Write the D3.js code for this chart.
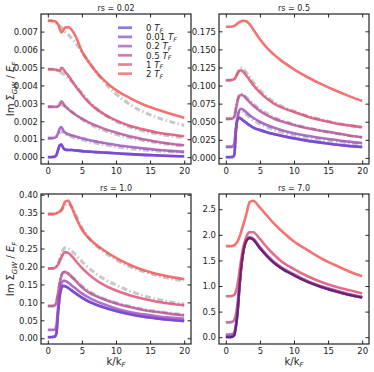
<!DOCTYPE html>
<html>
<head>
<meta charset="utf-8">
<script src="https://cdn.jsdelivr.net/npm/d3@7"></script>
<style>
body { margin: 0; background: #fff; }
svg text { font-family: "DejaVu Sans", sans-serif; }
</style>
</head>
<body>
<div id="chart"></div>
<script>
var k_values = [0, 0.5, 1, 1.25, 1.5, 1.75, 2, 2.25, 2.5, 3, 3.5, 4, 5, 6, 7, 8, 10, 12, 14, 16, 18, 20];
var temperatures = ["0", "0.01", "0.2", "0.5", "1", "2"];
var line_colors = ["#5a3ee0", "#7a45d0", "#9a4cb8", "#b54a95", "#d84a6e", "#f05050"];
var rs_labels = ["0.02", "0.5", "1.0", "7.0"];
var x_ticks = [0, 5, 10, 15, 20];

// rs = 0.02, one row per temperature
var rs002_curves = [
    [0, 0, 0.00002, 0.0001, 0.0004, 0.00066, 0.0007, 0.00052, 0.00043, 0.0004, 0.0004, 0.00038, 0.00034, 0.00031, 0.00028, 0.00026, 0.00022, 0.00017, 0.00013, 0.0001, 0.00007, 0.00005],
    [0.00001, 0.00001, 0.00003, 0.00011, 0.00041, 0.00066, 0.0007, 0.00052, 0.00043, 0.0004, 0.0004, 0.00038, 0.00034, 0.00031, 0.00028, 0.00026, 0.00022, 0.00017, 0.00013, 0.0001, 0.00007, 0.00005],
    [0.00106, 0.00106, 0.00108, 0.00114, 0.00134, 0.0016, 0.00168, 0.0015, 0.00138, 0.00128, 0.00122, 0.00117, 0.00105, 0.00096, 0.00088, 0.00081, 0.00068, 0.00058, 0.00049, 0.00041, 0.00035, 0.0003],
    [0.00282, 0.00282, 0.00281, 0.0028, 0.00283, 0.00296, 0.00312, 0.003, 0.00286, 0.00268, 0.00252, 0.00238, 0.00215, 0.00194, 0.00177, 0.00162, 0.00137, 0.00117, 0.001, 0.00086, 0.00075, 0.00066],
    [0.0049, 0.0049, 0.00489, 0.00487, 0.00484, 0.0048, 0.00498, 0.00492, 0.00478, 0.00455, 0.00428, 0.004, 0.0035, 0.00305, 0.00272, 0.00246, 0.00205, 0.00175, 0.00155, 0.00138, 0.00126, 0.00117],
    [0.0076, 0.0076, 0.00757, 0.00752, 0.0074, 0.00715, 0.00695, 0.00705, 0.00722, 0.00725, 0.0071, 0.0068, 0.0059, 0.0053, 0.0048, 0.00438, 0.00374, 0.00331, 0.00294, 0.00266, 0.00242, 0.0022]
];
var rs002_approx = [
    [0.00106, 0.00106, 0.00108, 0.00115, 0.00128, 0.00138, 0.0014, 0.00136, 0.0013, 0.00121, 0.00114, 0.00108, 0.00097, 0.00087, 0.00079, 0.00071, 0.00058, 0.00048, 0.0004, 0.00034, 0.0003, 0.00026],
    [0.0028, 0.0028, 0.0028, 0.00282, 0.00288, 0.00292, 0.00292, 0.00288, 0.00282, 0.0027, 0.00255, 0.0024, 0.00212, 0.00188, 0.00168, 0.00152, 0.00127, 0.00108, 0.00093, 0.0008, 0.0007, 0.0006],
    [0.0049, 0.0049, 0.00488, 0.00485, 0.0048, 0.00476, 0.0047, 0.00464, 0.00458, 0.00442, 0.00422, 0.00402, 0.00357, 0.00312, 0.00275, 0.00245, 0.002, 0.00168, 0.00146, 0.0013, 0.00118, 0.00108],
    [0.0076, 0.0076, 0.0075, 0.00745, 0.0074, 0.00732, 0.00722, 0.00712, 0.007, 0.00683, 0.00662, 0.0064, 0.00588, 0.00532, 0.0048, 0.0043, 0.00352, 0.00295, 0.00252, 0.00222, 0.00198, 0.00178]
];
var rs002_yticks = [0, 0.001, 0.002, 0.003, 0.004, 0.005, 0.006, 0.007];

// rs = 0.5
var rs05_curves = [
    [0.001, 0.001, 0.0012, 0.004, 0.04, 0.054, 0.0555, 0.054, 0.052, 0.0485, 0.045, 0.042, 0.0385, 0.0355, 0.033, 0.031, 0.027, 0.0235, 0.021, 0.0185, 0.0165, 0.015],
    [0.0012, 0.0012, 0.0014, 0.0045, 0.041, 0.054, 0.0556, 0.0541, 0.0521, 0.0486, 0.0451, 0.0421, 0.0386, 0.0356, 0.0331, 0.0311, 0.0271, 0.0236, 0.0211, 0.0186, 0.0166, 0.0151],
    [0.0153, 0.0153, 0.0156, 0.02, 0.04, 0.058, 0.066, 0.068, 0.067, 0.063, 0.059, 0.0555, 0.05, 0.0455, 0.042, 0.039, 0.034, 0.0305, 0.0275, 0.025, 0.0225, 0.0205],
    [0.054, 0.054, 0.0545, 0.057, 0.068, 0.08, 0.086, 0.087, 0.0865, 0.082, 0.077, 0.0725, 0.065, 0.059, 0.0545, 0.051, 0.0455, 0.041, 0.0375, 0.0345, 0.031, 0.0285],
    [0.1074, 0.1074, 0.108, 0.109, 0.1125, 0.117, 0.1205, 0.1212, 0.1195, 0.114, 0.1075, 0.101, 0.0905, 0.082, 0.0755, 0.0705, 0.0635, 0.057, 0.052, 0.048, 0.045, 0.0425],
    [0.1814, 0.1814, 0.1816, 0.1825, 0.184, 0.186, 0.1876, 0.1888, 0.1895, 0.1888, 0.1845, 0.178, 0.164, 0.1525, 0.1435, 0.1355, 0.1225, 0.1115, 0.102, 0.0935, 0.0858, 0.0786]
];
var rs05_approx = [
    [0.0153, 0.0153, 0.0156, 0.02, 0.04, 0.057, 0.064, 0.065, 0.064, 0.06, 0.056, 0.0525, 0.047, 0.0425, 0.039, 0.036, 0.0315, 0.028, 0.025, 0.0228, 0.0208, 0.019],
    [0.054, 0.054, 0.0545, 0.058, 0.07, 0.081, 0.087, 0.0885, 0.088, 0.084, 0.0795, 0.075, 0.0675, 0.0615, 0.0565, 0.0525, 0.0465, 0.0415, 0.0375, 0.034, 0.031, 0.0285],
    [0.1074, 0.1074, 0.108, 0.109, 0.113, 0.118, 0.122, 0.124, 0.1235, 0.118, 0.1115, 0.105, 0.094, 0.085, 0.078, 0.0725, 0.0645, 0.058, 0.053, 0.0485, 0.045, 0.042]
];
var rs05_yticks = [0, 0.025, 0.05, 0.075, 0.1, 0.125, 0.15, 0.175];

// rs = 1.0
var rs10_curves = [
    [0.003, 0.003, 0.004, 0.012, 0.07, 0.118, 0.14, 0.146, 0.145, 0.14, 0.133, 0.126, 0.113, 0.102, 0.094, 0.087, 0.0757, 0.067, 0.06, 0.055, 0.051, 0.0477],
    [0.0035, 0.0035, 0.0045, 0.013, 0.071, 0.119, 0.1405, 0.1465, 0.1455, 0.1405, 0.1335, 0.1265, 0.1135, 0.1025, 0.0945, 0.0875, 0.0762, 0.0675, 0.0605, 0.0555, 0.0515, 0.0482],
    [0.0235, 0.0235, 0.024, 0.035, 0.085, 0.13, 0.152, 0.16, 0.16, 0.155, 0.147, 0.14, 0.125, 0.113, 0.104, 0.096, 0.083, 0.073, 0.0665, 0.0615, 0.0575, 0.0543],
    [0.09, 0.09, 0.091, 0.1, 0.125, 0.155, 0.175, 0.184, 0.185, 0.18, 0.171, 0.162, 0.142, 0.128, 0.118, 0.11, 0.097, 0.087, 0.079, 0.073, 0.068, 0.0636],
    [0.1945, 0.1945, 0.196, 0.199, 0.205, 0.215, 0.226, 0.235, 0.24, 0.238, 0.229, 0.218, 0.196, 0.178, 0.163, 0.151, 0.133, 0.12, 0.11, 0.102, 0.096, 0.0917],
    [0.346, 0.346, 0.3465, 0.348, 0.35, 0.353, 0.358, 0.368, 0.38, 0.383, 0.365, 0.342, 0.303, 0.279, 0.262, 0.248, 0.224, 0.205, 0.19, 0.179, 0.171, 0.1646]
];
var rs10_approx = [
    [0.09, 0.09, 0.091, 0.1, 0.125, 0.155, 0.175, 0.183, 0.184, 0.18, 0.172, 0.164, 0.146, 0.132, 0.121, 0.112, 0.099, 0.089, 0.081, 0.075, 0.07, 0.066],
    [0.1945, 0.1945, 0.196, 0.2, 0.208, 0.222, 0.236, 0.247, 0.252, 0.25, 0.243, 0.234, 0.214, 0.196, 0.181, 0.168, 0.148, 0.132, 0.119, 0.109, 0.101, 0.095],
    [0.346, 0.346, 0.3465, 0.348, 0.35, 0.353, 0.357, 0.363, 0.37, 0.375, 0.366, 0.348, 0.308, 0.28, 0.26, 0.244, 0.219, 0.2, 0.186, 0.175, 0.166, 0.16]
];
var rs10_yticks = [0, 0.05, 0.1, 0.15, 0.2, 0.25, 0.3, 0.35, 0.4];

// rs = 7.0
var rs70_curves = [
    [0, 0, 0.01, 0.04, 0.22, 0.52, 0.98, 1.36, 1.62, 1.88, 1.94, 1.91, 1.74, 1.59, 1.46, 1.36, 1.21, 1.08, 0.98, 0.9, 0.83, 0.775],
    [0.02, 0.02, 0.03, 0.06, 0.23, 0.53, 0.99, 1.36, 1.62, 1.88, 1.94, 1.912, 1.742, 1.592, 1.462, 1.362, 1.212, 1.082, 0.982, 0.902, 0.832, 0.777],
    [0.05, 0.05, 0.06, 0.1, 0.26, 0.56, 1.0, 1.36, 1.62, 1.88, 1.94, 1.915, 1.745, 1.595, 1.465, 1.365, 1.215, 1.085, 0.985, 0.905, 0.835, 0.78],
    [0.29, 0.29, 0.3, 0.34, 0.46, 0.7, 1.02, 1.37, 1.63, 1.89, 1.95, 1.925, 1.76, 1.61, 1.48, 1.38, 1.23, 1.095, 0.995, 0.915, 0.845, 0.79],
    [0.8, 0.8, 0.81, 0.83, 0.9, 1.05, 1.28, 1.52, 1.72, 1.96, 2.05, 2.05, 1.92, 1.76, 1.62, 1.5, 1.33, 1.19, 1.08, 0.99, 0.92, 0.855],
    [1.78, 1.78, 1.785, 1.8, 1.83, 1.88, 1.96, 2.06, 2.17, 2.4, 2.64, 2.665, 2.53, 2.38, 2.23, 2.1, 1.87, 1.7, 1.54, 1.41, 1.29, 1.19]
];
var rs70_reference = [0, 0, 0.01, 0.04, 0.22, 0.52, 0.98, 1.36, 1.62, 1.88, 1.94, 1.91, 1.74, 1.59, 1.46, 1.36, 1.21, 1.08, 0.98, 0.9, 0.83, 0.775];
var rs70_yticks = [0, 0.5, 1.0, 1.5, 2.0, 2.5];

var panel_size = 150;
var panels = [
    {rs: rs_labels[0], curves: rs002_curves, approx: rs002_approx, reference: null, yticks: rs002_yticks, fmt: ".3f", left: 41, top: 14},
    {rs: rs_labels[1], curves: rs05_curves, approx: rs05_approx, reference: null, yticks: rs05_yticks, fmt: ".3f", left: 219, top: 14},
    {rs: rs_labels[2], curves: rs10_curves, approx: rs10_approx, reference: null, yticks: rs10_yticks, fmt: ".2f", left: 41, top: 194},
    {rs: rs_labels[3], curves: rs70_curves, approx: [], reference: rs70_reference, yticks: rs70_yticks, fmt: ".1f", left: 219, top: 194}
];

var svg = d3.select("#chart").append("svg")
    .attr("width", 374)
    .attr("height", 372);

panels.forEach(function(p, pi){
    var g = svg.append("g")
        .attr("transform", "translate(" + p.left + "," + p.top + ")");

    var x = d3.scaleLinear().domain([-1, 21]).range([0, panel_size]);
    var all = [].concat.apply([], p.curves.concat(p.approx));
    var ymin = d3.min(all), ymax = d3.max(all);
    var pad = (ymax - ymin) * 0.05;
    var y = d3.scaleLinear().domain([ymin - pad, ymax + pad]).range([panel_size, 0]);

    var line = d3.line()
        .x(function(d, i){ return x(k_values[i]); })
        .y(function(d){ return y(d); })
        .curve(d3.curveMonotoneX);

    var plot = g.append("g");

    // gray approximations under the curves
    p.approx.forEach(function(values){
        plot.append("path")
            .attr("d", line(values))
            .attr("fill", "none")
            .attr("stroke", "#c8c8c8")
            .attr("stroke-width", 3)
            .attr("stroke-dasharray", "6,2.5,1.5,2.5");
    });

    p.curves.forEach(function(values, i){
        plot.append("path")
            .attr("d", line(values))
            .attr("fill", "none")
            .attr("stroke", line_colors[i])
            .attr("stroke-width", 2.6)
            .attr("stroke-opacity", 0.8)
            .attr("stroke-linejoin", "round");
    });

    if(p.reference){
        plot.append("path")
            .attr("d", line(p.reference))
            .attr("fill", "none")
            .attr("stroke", "#3d0548")
            .attr("stroke-width", 2)
            .attr("stroke-opacity", 0.6);
    }

    // axes, ticks pointing inward on all sides
    var styleAxis = function(a){
        a.attr("font-family", "DejaVu Sans").attr("font-size", 8.5).attr("color", "#222");
        a.select(".domain").remove();
        a.selectAll(".tick line").attr("stroke-width", 1);
    };
    g.append("g")
        .attr("transform", "translate(0," + panel_size + ")")
        .call(d3.axisBottom(x).tickValues(x_ticks).tickSizeInner(-3.5).tickSizeOuter(0).tickPadding(4))
        .call(styleAxis);
    g.append("g")
        .call(d3.axisTop(x).tickValues(x_ticks).tickSizeInner(-3.5).tickSizeOuter(0).tickFormat(""))
        .call(styleAxis);
    g.append("g")
        .call(d3.axisLeft(y).tickValues(p.yticks).tickSizeInner(-3.5).tickSizeOuter(0).tickPadding(3).tickFormat(d3.format(p.fmt)))
        .call(styleAxis);
    g.append("g")
        .attr("transform", "translate(" + panel_size + ",0)")
        .call(d3.axisRight(y).tickValues(p.yticks).tickSizeInner(-3.5).tickSizeOuter(0).tickFormat(""))
        .call(styleAxis);

    g.append("rect")
        .attr("width", panel_size)
        .attr("height", panel_size)
        .attr("fill", "none")
        .attr("stroke", "#222")
        .attr("stroke-width", 1.2);

    g.append("text")
        .attr("x", panel_size / 2)
        .attr("y", -3)
        .attr("text-anchor", "middle")
        .attr("font-size", 8)
        .attr("fill", "#222")
        .text("rs = " + p.rs);

    if(pi % 2 == 0){
        var yl = svg.append("text")
            .attr("transform", "translate(14," + (p.top + panel_size / 2) + ") rotate(-90)")
            .attr("text-anchor", "middle")
            .attr("font-size", 10)
            .attr("fill", "#222");
        yl.append("tspan").text("Im \u03A3");
        yl.append("tspan").attr("font-size", 7).attr("font-style", "italic").attr("dy", 2.5).text("GW");
        yl.append("tspan").attr("dy", -2.5).text(" / ");
        yl.append("tspan").attr("font-style", "italic").text("E");
        yl.append("tspan").attr("font-size", 7).attr("font-style", "italic").attr("dy", 2.5).text("F");
    }
    if(pi >= 2){
        var xl = svg.append("text")
            .attr("x", p.left + panel_size / 2)
            .attr("y", 364.5)
            .attr("text-anchor", "middle")
            .attr("font-size", 10)
            .attr("fill", "#222");
        xl.append("tspan").text("k/k");
        xl.append("tspan").attr("font-size", 7).attr("font-style", "italic").attr("dy", 2).text("F");
    }

    // legend in the first panel
    if(pi == 0){
        var legend = g.append("g");
        temperatures.forEach(function(t, i){
            var cy = 13.7 + i * 9.2;
            legend.append("line")
                .attr("x1", 77).attr("x2", 91)
                .attr("y1", cy).attr("y2", cy)
                .attr("stroke", line_colors[i])
                .attr("stroke-opacity", 0.7)
                .attr("stroke-width", 2.7);
            var lt = legend.append("text")
                .attr("x", 105)
                .attr("y", cy + 3.3)
                .attr("font-size", 8.6)
                .attr("fill", "#222");
            lt.append("tspan").text(t + " ");
            lt.append("tspan").attr("font-style", "italic").text("T");
            lt.append("tspan").attr("font-size", 6.2).attr("font-style", "italic").attr("dy", 1.6).text("F");
        });
    }
});
</script>
</body>
</html>
